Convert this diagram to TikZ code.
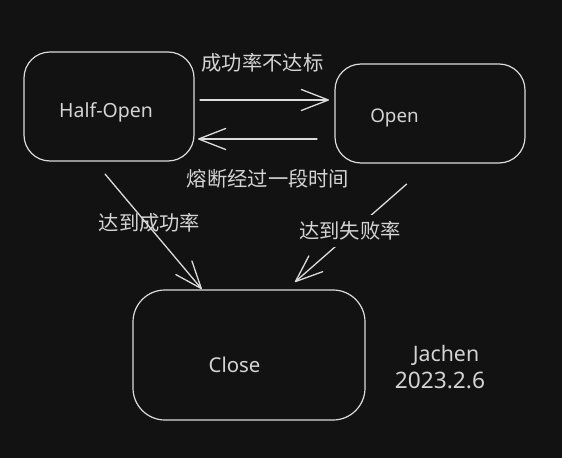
\documentclass[tikz,border=0pt]{standalone}
\usepackage{fontspec}
\setmainfont{Noto Sans}
\newfontfamily\cjk{Noto Sans CJK SC}
\usetikzlibrary{arrows.meta}
\definecolor{bg}{HTML}{121212}
\definecolor{ink}{HTML}{DCDCDC}
\definecolor{txt}{HTML}{D4D4D4}
\newcommand{\fsz}[1]{\fontsize{#1bp}{#1bp}\selectfont}
\begin{document}
\begin{tikzpicture}[x=1bp,y=-1bp,
  box/.style={draw=ink, line width=1.2bp, rounded corners=#1, inner sep=0pt},
  lat/.style={text=txt, inner sep=0pt, font=\fsz{19}},
  zh/.style={text=txt, inner sep=0pt, font=\cjk\fsz{20.3}},
  conn/.style={draw=ink, line width=1.3bp, line cap=round,
    -{Straight Barb[length=27bp,width=21bp,round]}}]
\path[fill=bg] (0,0) rectangle (562,458);
% boxes
\node[box=26bp, minimum width=170bp, minimum height=109bp] (ho) at (109,106.5) {};
\node[box=26bp, minimum width=190bp, minimum height=99bp] (op) at (430,113.5) {};
\node[box=32bp, minimum width=232bp, minimum height=130bp] (cl) at (249,355) {};
% box texts
\node[lat, font=\fsz{19.5}] (hot) at (106,112) {Half-Open};
\node[lat, font=\fsz{18.8}] (opt) at (394.5,117.5) {Open};
\node[lat, font=\fsz{20.4}] (clt) at (234.5,365) {Close};
\node[lat, font=\fsz{21.3}] (name) at (446,355) {Jachen};
\node[lat, font=\fsz{22.7}] (date) at (440,380) {2023.2.6};
% connector end points
\coordinate (a1s) at (200,100);
\coordinate (a1e) at (329,100);
\coordinate (a2s) at (317,139);
\coordinate (a2e) at (198,139);
\coordinate (a3s) at (105,174);
\coordinate (a3e) at (201.7,289);
\coordinate (a4s) at (406.7,184);
\coordinate (a4e) at (295,282);
% connectors
\draw[conn] (a1s) -- (a1e);
\draw[conn] (a2s) -- (a2e);
\draw[conn] (a3s) -- (a3e);
\draw[conn] (a4s) -- (a4e);
% labels
\node[zh] (l1) at (262.5,63) {成功率不达标};
\node[zh] (l2) at (268,179) {熔断经过一段时间};
\node[zh] (l3) at (149.5,222.5) {达到成功率};
\node[zh, fill=bg, inner ysep=7bp, inner xsep=1bp] (l4) at (350,231) {达到失败率};
\end{tikzpicture}
\end{document}
